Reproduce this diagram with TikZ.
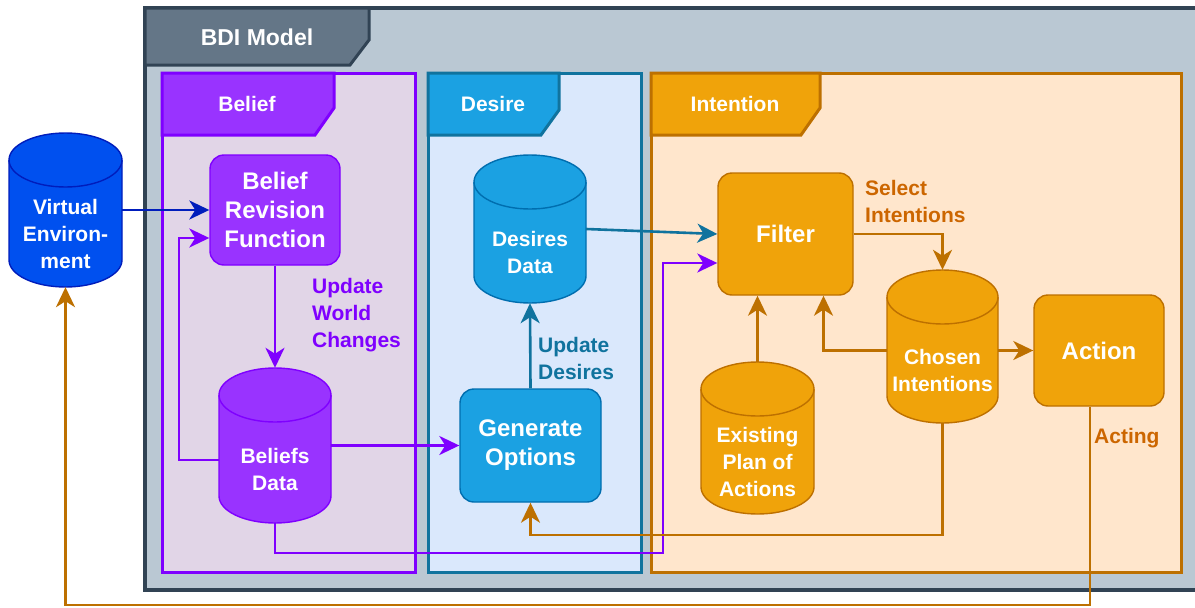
\documentclass[tikz,border=0pt]{standalone}
\usepackage{fontspec}
\setmainfont{Liberation Sans}
\usetikzlibrary{arrows.meta,calc}
\definecolor{bdiFill}{HTML}{BAC8D3}
\definecolor{bdiDraw}{HTML}{314354}
\definecolor{bdiTab}{HTML}{647687}
\definecolor{belFrame}{HTML}{E1D5E7}
\definecolor{purLine}{HTML}{7F00FF}
\definecolor{purFill}{HTML}{9933FF}
\definecolor{desFrame}{HTML}{DAE8FC}
\definecolor{desLine}{HTML}{10739E}
\definecolor{desFill}{HTML}{1BA1E2}
\definecolor{desDraw}{HTML}{006EAF}
\definecolor{intFrame}{HTML}{FFE6CC}
\definecolor{intLine}{HTML}{BD7000}
\definecolor{intFill}{HTML}{F0A30A}
\definecolor{intText}{HTML}{CC6600}
\definecolor{veFill}{HTML}{0050EF}
\definecolor{veDraw}{HTML}{001DBC}
\tikzset{
  boxtext/.style={font=\fontsize{24}{29}\selectfont\bfseries, text=white, align=center},
  cyltext/.style={font=\fontsize{21}{27}\selectfont\bfseries, text=white, align=center, inner sep=0},
  lbl/.style={font=\fontsize{21}{27}\selectfont\bfseries, align=left, anchor=west, inner sep=0},
  tabtext/.style={font=\fontsize{21}{25}\selectfont\bfseries, text=white, inner sep=0},
  proc/.style={rounded corners=14pt, line width=1.4pt, boxtext, inner sep=0},
  frame/.style={line width=3pt},
  conn/.style={line width=2.6pt, -{Stealth[length=20pt,width=19pt,inset=6pt]}},
}
\newcommand\mycyl[8]{%
  \filldraw[fill=#6,draw=#7,line width=1.4pt] (#2,{-(#3+27)}) -- (#2,{-(#5-27)})
    arc[start angle=180,end angle=360,x radius={(#4-#2)/2*1pt},y radius=27pt]
    -- (#4,{-(#3+27)})
    arc[start angle=0,end angle=180,x radius={(#4-#2)/2*1pt},y radius=27pt] -- cycle;
  \draw[draw=#7,line width=1.4pt] (#2,{-(#3+27)})
    arc[start angle=180,end angle=360,x radius={(#4-#2)/2*1pt},y radius=27pt];
  \node[inner sep=0,minimum width={#4-#2},minimum height={#5-#3}] (#1) at ({(#2+#4)/2},{-(#3+#5)/2}) {};
  \node[cyltext] (#1-t) at ({(#2+#4)/2},{-((#3+55+#5)/2-4)}) {#8};
}
\begin{document}
\begin{tikzpicture}[x=1pt,y=1pt]
\useasboundingbox[fill=white] (0,0) rectangle (1195,-608);
% BDI frame
\filldraw[frame, line width=3.5pt, fill=bdiFill, draw=bdiDraw] (145,-8) rectangle (1210,-590);
\filldraw[frame, line width=3pt, fill=bdiTab, draw=bdiDraw] (145,-8) -- (369,-8) -- (369,-40) -- (350,-65) -- (145,-65) -- cycle;
\node[tabtext, font=\fontsize{23}{27}\selectfont\bfseries] (bdititle) at (257,-37) {BDI Model};
% Belief frame
\filldraw[frame, fill=belFrame, draw=purLine] (162,-73) rectangle (415,-572);
\filldraw[frame, fill=purFill, draw=purLine] (162,-73) -- (334,-73) -- (334,-108) -- (315,-135) -- (162,-135) -- cycle;
\node[tabtext] (beltitle) at (247,-104) {Belief};
% Desire frame
\filldraw[frame, fill=desFrame, draw=desLine] (428,-73) rectangle (641,-572);
\filldraw[frame, fill=desFill, draw=desLine] (428,-73) -- (559,-73) -- (559,-110) -- (541,-135) -- (428,-135) -- cycle;
\node[tabtext] (destitle) at (493,-104) {Desire};
% Intention frame
\filldraw[frame, fill=intFrame, draw=intLine] (651,-73) rectangle (1181,-572);
\filldraw[frame, fill=intFill, draw=intLine] (651,-73) -- (820,-73) -- (820,-108) -- (801,-135) -- (651,-135) -- cycle;
\node[tabtext] (inttitle) at (735,-104) {Intention};
% nodes
\mycyl{ve}{9}{133}{122}{287}{veFill}{veDraw}{Virtual\\Environ-\\ment}
\mycyl{bd}{219}{368}{331}{523}{purFill}{purLine}{Beliefs\\Data}
\mycyl{dd}{474}{155}{586}{303}{desFill}{desDraw}{Desires\\Data}
\mycyl{ci}{887}{270}{998}{423}{intFill}{intLine}{Chosen\\Intentions}
\mycyl{ep}{701}{362}{814}{514}{intFill}{intLine}{Existing\\Plan of\\Actions}
\node[proc, fill=purFill, draw=purLine, minimum width=130, minimum height=110] (brf) at (275,-210) {Belief\\Revision\\Function};
\node[proc, fill=desFill, draw=desDraw, minimum width=141, minimum height=113] (go) at (530.5,-445.5) {Generate\\Options};
\node[proc, fill=intFill, draw=intLine, minimum width=135, minimum height=122] (filter) at (785.5,-234) {Filter};
\node[proc, fill=intFill, draw=intLine, minimum width=130, minimum height=111] (action) at (1099,-350.5) {Action};
% connectors
\draw[conn, draw=veDraw] (ve.east) -- (brf.west);
\draw[conn, draw=purLine] (brf.south) -- (bd.north);
\draw[conn, draw=purLine] (bd.west |- 0,-460) -- (179,-460) |- (brf.west |- 0,-238);
\draw[conn, draw=purLine] (bd.east) -- (go.west);
\draw[conn, draw=purLine] (bd.south) |- (663,-553) |- (filter.west |- 0,-263);
\draw[conn, draw=desLine] (go.north) -- (dd.south);
\draw[conn, draw=desLine] (dd.east) -- (filter.west);
\draw[conn, draw=intLine] (filter.east) -| (ci.north);
\draw[conn, draw=intLine] (ci.east |- action.west) -- (action.west);
\draw[conn, draw=intLine] (ci.west |- action.west) -| ([xshift=38pt]filter.south);
\draw[conn, draw=intLine] (ep.north) -- (ep.north |- filter.south);
\draw[conn, draw=intLine] (ci.south) |- (go.south |- 0,-535) -- (go.south);
\draw[conn, draw=intLine] ([xshift=-9pt]action.south) |- (ve.south |- 0,-605) -- (ve.south);
% labels
\node[lbl, text=purLine] (uwc) at (312,-315) {Update\\World\\Changes};
\node[lbl, text=desLine] (ud) at (538,-358) {Update\\Desires};
\node[lbl, text=intText] (si) at (865,-201) {Select\\Intentions};
\node[lbl, text=intText] (act) at (1094,-438) {Acting};
\end{tikzpicture}
\end{document}
